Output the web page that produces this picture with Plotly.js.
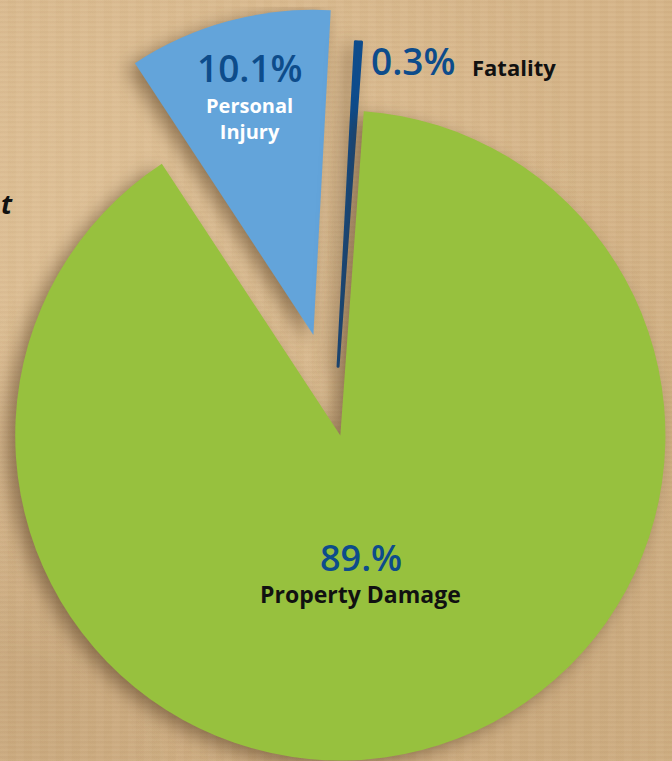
<!DOCTYPE html>
<html>
<head>
<meta charset="utf-8">
<script src="https://cdn.plot.ly/plotly-3.0.1.min.js"></script>
<style>
  html, body { margin: 0; padding: 0; width: 672px; height: 761px; overflow: hidden; }
  body {
    background-color: #d5b488;
    background-image:
      radial-gradient(ellipse at 20% 30%, rgba(255,235,200,0.22), rgba(0,0,0,0) 60%),
      radial-gradient(ellipse at 80% 85%, rgba(120,90,50,0.12), rgba(0,0,0,0) 55%),
      radial-gradient(ellipse at 5% 90%, rgba(110,80,45,0.12), rgba(0,0,0,0) 40%),
      repeating-linear-gradient(0deg, rgba(255,240,210,0.05) 0px, rgba(255,240,210,0.05) 2px, rgba(150,110,60,0.03) 3px, rgba(150,110,60,0.03) 5px),
      repeating-linear-gradient(90deg, rgba(255,240,210,0.03) 0px, rgba(255,240,210,0.03) 7px, rgba(150,110,60,0.025) 9px, rgba(150,110,60,0.025) 16px);
  }
  #chart { position: absolute; left: -73.5px; top: 6.5px; width: 816px; height: 816px; }
  .slice path.surface { filter: drop-shadow(-8px 5px 9px rgba(70,45,20,0.5)); }
</style>
</head>
<body>
<div id="chart"></div>
<script>
// ---- data ----
var labels = ["Personal Injury", "Fatality", "Property Damage"];
var values = [10.1, 0.3, 89.6];
var percentText = ["10.1%", "0.3%", "89.%"];
var nameText = ["Personal<br>Injury", "Fatality", "Property Damage"];
var sliceColors = ["#63a4da", "#0e4c8c", "#97c13e"];
var pulls = [0.255, 0.15, 0.065];

// ---- helpers: window pixels -> paper coords of the chart div ----
var DIV_LEFT = -73.5, DIV_TOP = 6.5, DIV_SIZE = 816;
function px(x) { return (x - DIV_LEFT) / DIV_SIZE; }
function py(y) { return 1 - (y - DIV_TOP) / DIV_SIZE; }

var FONT = "Open Sans, sans-serif";
var PCT_BLUE = "#0d4c8b";

var trace = {
  type: "pie",
  labels: labels,
  values: values,
  sort: false,
  direction: "clockwise",
  rotation: -33.3,
  pull: pulls,
  marker: { colors: sliceColors, line: { width: [0, 3, 0], color: sliceColors } },
  textinfo: "none",
  hoverinfo: "label+percent",
  showlegend: false
};

var annotations = [
  // Personal Injury
  { x: px(249), y: py(67), text: percentText[0], font: { family: FONT, size: 37, color: PCT_BLUE, weight: 600 } },
  { x: px(249), y: py(118), text: nameText[0], font: { family: FONT, size: 20, color: "#ffffff", weight: 700 } },
  // Fatality
  { x: px(369), y: py(60), xanchor: "left", text: percentText[1], font: { family: FONT, size: 37, color: PCT_BLUE, weight: 600 } },
  { x: px(469), y: py(67), xanchor: "left", text: nameText[1], font: { family: FONT, size: 22, color: "#111111", weight: 700 } },
  // Property Damage
  { x: px(360), y: py(557), text: percentText[2], font: { family: FONT, size: 36, color: PCT_BLUE, weight: 600 } },
  { x: px(360), y: py(593), text: nameText[2], font: { family: FONT, size: 23, color: "#111111", weight: 700 } },
  // clipped title fragment at left
  { x: px(14), y: py(203), xanchor: "right", text: "<i>t</i>", font: { family: FONT, size: 27, color: "#111111", weight: 700 } }
];
annotations.forEach(function (a) {
  a.xref = "paper"; a.yref = "paper"; a.showarrow = false;
  if (!a.xanchor) a.xanchor = "center";
  a.yanchor = "middle";
});

var layout = {
  width: 816,
  height: 816,
  margin: { l: 0, r: 0, t: 0, b: 0 },
  paper_bgcolor: "rgba(0,0,0,0)",
  plot_bgcolor: "rgba(0,0,0,0)",
  showlegend: false,
  annotations: annotations
};

Plotly.newPlot("chart", [trace], layout, { displayModeBar: false, staticPlot: true });
</script>
</body>
</html>
